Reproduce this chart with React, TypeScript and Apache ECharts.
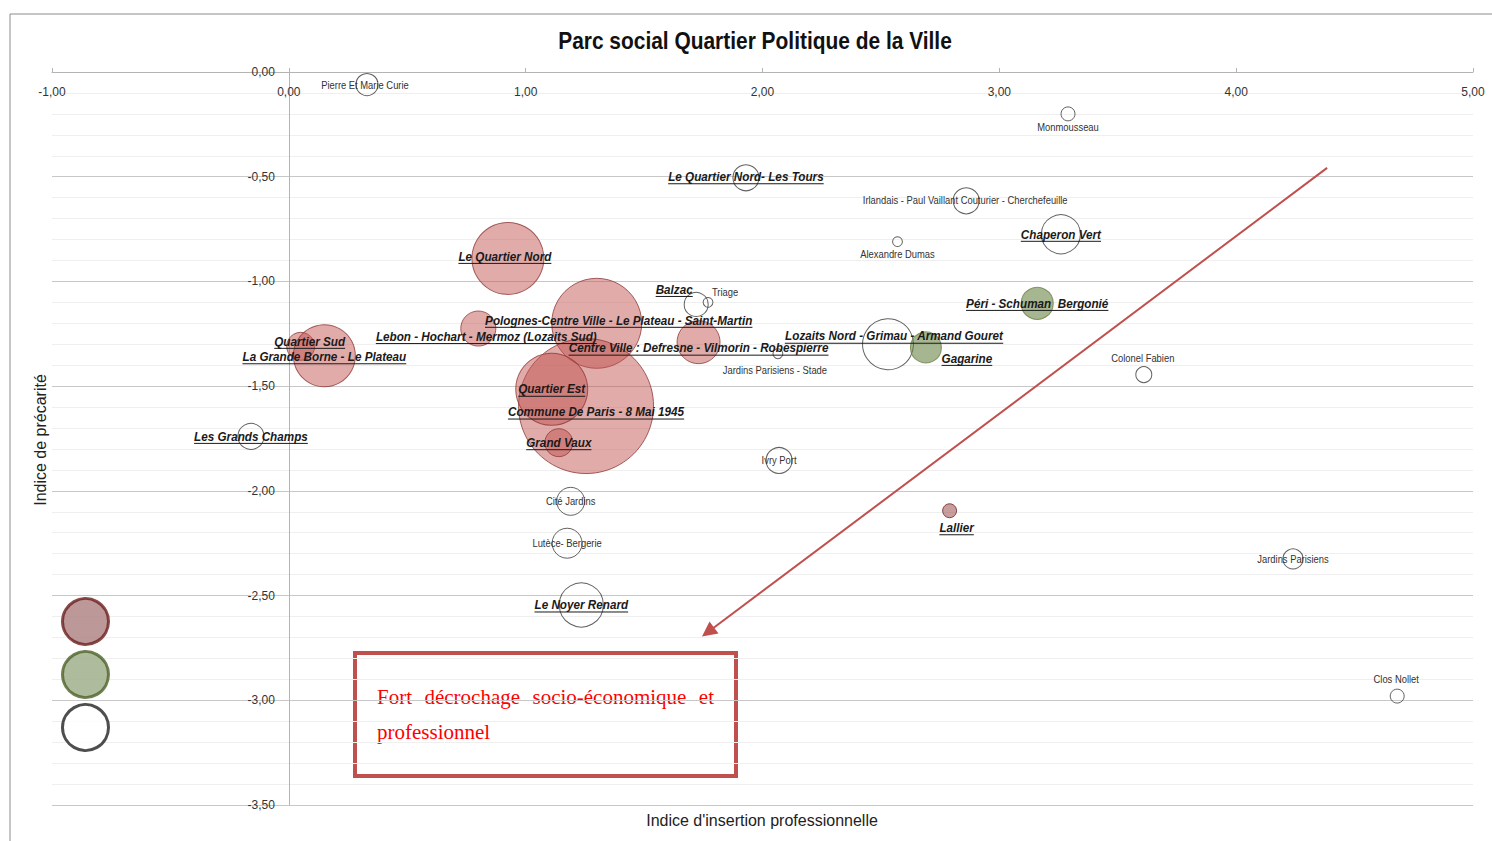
import React, { useEffect, useRef } from "react";
import * as echarts from "echarts";

// ---------- Data ----------
const TITLE = "Parc social Quartier Politique de la Ville";
const X_NAME = "Indice d'insertion professionnelle";
const Y_NAME = "Indice de précarité";
const BOX_WORDS_LINE1 = ["Fort", "décrochage", "socio-économique", "et"];
const BOX_LINE2 = "professionnel";

const NAMES = [
  "Pierre Et Marie Curie",
  "Monmousseau",
  "Le Quartier Nord- Les Tours",
  "Irlandais - Paul Vaillant Couturier - Cherchefeuille",
  "Chaperon Vert",
  "Alexandre Dumas",
  "Le Quartier Nord",
  "Balzac",
  "Triage",
  "Polognes-Centre Ville - Le Plateau - Saint-Martin",
  "Lebon - Hochart - Mermoz (Lozaits Sud)",
  "Quartier Sud",
  "La Grande Borne - Le Plateau",
  "Centre Ville : Defresne - Vilmorin - Robespierre",
  "Jardins Parisiens - Stade",
  "Lozaits Nord - Grimau - Armand Gouret",
  "Gagarine",
  "Péri - Schuman  Bergonié",
  "Colonel Fabien",
  "Commune De Paris - 8 Mai 1945",
  "Quartier Est",
  "Grand Vaux",
  "Les Grands Champs",
  "Ivry Port",
  "Cité Jardins",
  "Lutèce- Bergerie",
  "Le Noyer Renard",
  "Lallier",
  "Jardins Parisiens",
  "Clos Nollet",
];
const X_VALUES = [
  0.33, 3.29, 1.93, 2.86, 3.26, 2.57, 0.925, 1.72, 1.77, 1.30, 0.80, 0.05, 0.15, 1.73, 2.065,
  2.53, 2.69, 3.16, 3.61, 1.255, 1.11, 1.14, -0.16, 2.07, 1.19, 1.175, 1.235, 2.79, 4.24, 4.68,
];
const Y_VALUES = [
  -0.06, -0.2, -0.505, -0.615, -0.775, -0.81, -0.89, -1.11, -1.10, -1.2, -1.225, -1.31, -1.355,
  -1.29, -1.345, -1.3, -1.315, -1.105, -1.445, -1.595, -1.515, -1.77, -1.74, -1.855, -2.05, -2.25,
  -2.545, -2.095, -2.325, -2.98,
];
// approximate number of social dwellings (bubble area)
const SIZES = [
  80, 32, 111, 111, 250, 16, 853, 95, 16, 1333, 202, 129, 633, 304, 16, 428, 158, 169, 42, 3000,
  853, 129, 111, 111, 129, 148, 319, 32, 66, 32,
];
const GROUPS = [
  "blanc", "blanc", "blanc", "blanc", "blanc", "blanc", "rouge", "blanc", "blanc", "rouge",
  "rouge", "rouge", "rouge", "rouge", "blanc", "blanc", "vert", "vert", "blanc", "rouge",
  "rouge", "rouge", "blanc", "blanc", "blanc", "blanc", "blanc", "brun", "blanc", "blanc",
];
const QPV_LABEL = [
  false, false, true, false, true, false, true, true, false, true, true, true, true, true, false,
  true, true, true, false, true, true, true, true, false, false, false, true, true, false, false,
];
const ARROW_FROM = [4.384, -0.458];
const ARROW_TO = [1.77, -2.674];

// ---------- Layout / styles ----------
const LABEL_OFFSETS: Record<string, number[]> = {
  "Pierre Et Marie Curie": [-2, 1],
  Monmousseau: [0, 14],
  "Le Quartier Nord- Les Tours": [0, -1],
  "Irlandais - Paul Vaillant Couturier - Cherchefeuille": [-1, 0],
  "Alexandre Dumas": [0, 13],
  "Le Quartier Nord": [-3, -2],
  Balzac: [-22, -15],
  Triage: [17, -10],
  "Polognes-Centre Ville - Le Plateau - Saint-Martin": [22, -3],
  "Lebon - Hochart - Mermoz (Lozaits Sud)": [8, 8],
  "Quartier Sud": [9, -5],
  "La Grande Borne - Le Plateau": [0, 1],
  "Centre Ville : Defresne - Vilmorin - Robespierre": [0, 6],
  "Jardins Parisiens - Stade": [-3, 17],
  "Lozaits Nord - Grimau - Armand Gouret": [6, -8],
  Gagarine: [41, 11],
  "Colonel Fabien": [-1, -16],
  "Commune De Paris - 8 Mai 1945": [10, 6],
  Lallier: [7, 17],
  "Clos Nollet": [-1, -17],
};
const MAX_SIZE = 3000;
const MAX_RADIUS = 67.5;
const SANS = "'Liberation Sans', Arial, sans-serif";
const SERIF = "'Liberation Serif', 'Times New Roman', serif";
const QPV_SIZE = 13;
const QPV_SCALE = 0.9;
const PLAIN_SIZE = 10;
const PLAIN_SCALE = 0.94;
const BOX_FONT_SIZE = 21;
const BOX_LEFT = 377;
const BOX_RIGHT = 714;

const GROUP_STYLE: Record<string, any> = {
  rouge: { color: "rgba(192,80,77,0.6)", borderColor: "#8e3b39", borderWidth: 1 },
  brun: { color: "rgba(140,50,50,0.6)", borderColor: "#6b1f1f", borderWidth: 1 },
  vert: { color: "rgba(95,124,59,0.7)", borderColor: "#6a7f45", borderWidth: 1 },
  blanc: { color: "rgba(255,255,255,0)", borderColor: "#3a3a3a", borderWidth: 1 },
};
const GROUP_SERIES_NAME: Record<string, string> = {
  rouge: "QPV",
  brun: "Série A",
  vert: "Série B",
  blanc: "Série C",
};

const fmt = (v: number) => (Math.abs(v) < 1e-9 ? "0,00" : v.toFixed(2).replace(".", ","));

let measureCtx: CanvasRenderingContext2D | null = null;
function measure(text: string, font: string) {
  if (!measureCtx) measureCtx = document.createElement("canvas").getContext("2d");
  if (!measureCtx) return text.length * 6;
  measureCtx.font = font;
  return measureCtx.measureText(text).width;
}

const GRID = { left: 52, right: 19, top: 72, bottom: 36 };
const X_MIN = -1;
const X_MAX = 5;

export default function App() {
  const ref = useRef<HTMLDivElement>(null);
  useEffect(() => {
    document.body.style.margin = "0";
    if (!ref.current) return;
    const chart = echarts.init(ref.current, undefined, { renderer: "svg" });
    const plotWidth = 1492 - GRID.left - GRID.right;
    const yAxisOffset = -((0 - X_MIN) / (X_MAX - X_MIN)) * plotWidth;

    const bubbleSeries = ["blanc", "rouge", "brun", "vert"].map((g) => ({
      type: "scatter",
      name: GROUP_SERIES_NAME[g],
      z: 2,
      data: NAMES.map((n, i) => ({ i, n }))
        .filter((d) => GROUPS[d.i] === g)
        .map((d) => ({ name: d.n, value: [X_VALUES[d.i], Y_VALUES[d.i], SIZES[d.i]] })),
      symbolSize: (val: number[]) => 2 * MAX_RADIUS * Math.sqrt(val[2] / MAX_SIZE),
      itemStyle: GROUP_STYLE[g],
      emphasis: { disabled: true },
      label: { show: false },
      ...(g === "blanc"
        ? {
            markLine: {
              silent: true,
              symbol: ["none", "triangle"],
              symbolSize: 15,
              label: { show: false },
              lineStyle: { color: "#c0504d", width: 2, type: "solid" },
              itemStyle: { color: "#c0504d" },
              data: [[{ coord: ARROW_FROM }, { coord: ARROW_TO }]],
            },
          }
        : {}),
    }));

    const labelSeries = {
      type: "custom",
      name: "labels",
      z: 10,
      silent: true,
      data: NAMES.map((_, i) => [X_VALUES[i], Y_VALUES[i]]),
      encode: { x: 0, y: 1 },
      renderItem: (params: any, api: any) => {
        const i = params.dataIndex;
        const name = NAMES[i];
        const p = api.coord([api.value(0), api.value(1)]);
        const off = LABEL_OFFSETS[name] || [0, 0];
        const cx = p[0] + off[0];
        const cy = p[1] + off[1];
        const q = QPV_LABEL[i];
        const size = q ? QPV_SIZE : PLAIN_SIZE;
        const sc = q ? QPV_SCALE : PLAIN_SCALE;
        const children: any[] = [
          {
            type: "text",
            x: cx,
            y: cy,
            scaleX: sc,
            style: {
              text: name,
              fontSize: size,
              fontFamily: SANS,
              fontWeight: q ? "bold" : "normal",
              fontStyle: q ? "italic" : "normal",
              fill: q ? "#1a1a1a" : "#333333",
              align: "center",
              verticalAlign: "middle",
            },
          },
        ];
        if (q) {
          const w = measure(name, `italic bold ${size}px ${SANS}`) * sc;
          children.push({
            type: "line",
            shape: { x1: cx - w / 2, y1: cy + 7, x2: cx + w / 2, y2: cy + 7 },
            style: { stroke: "#1a1a1a", lineWidth: 1 },
          });
        }
        return { type: "group", children };
      },
    };

    const boxText = (text: string, x: number, y: number) => ({
      type: "text",
      x,
      y,
      style: { text, fontSize: BOX_FONT_SIZE, fontFamily: SERIF, fill: "#ff0000", align: "left", verticalAlign: "middle" },
    });
    // justified first line
    const boxFont = `${BOX_FONT_SIZE}px ${SERIF}`;
    const widths = BOX_WORDS_LINE1.map((w) => measure(w, boxFont));
    const gap = (BOX_RIGHT - BOX_LEFT - widths.reduce((a, b) => a + b, 0)) / (BOX_WORDS_LINE1.length - 1);
    let cursor = BOX_LEFT;
    const line1 = BOX_WORDS_LINE1.map((w, k) => {
      const el = boxText(w, cursor, 697);
      cursor += widths[k] + gap;
      return el;
    });

    const option: any = {
      animation: false,
      backgroundColor: "#ffffff",
      legend: {
        orient: "vertical",
        left: 61,
        top: 597,
        padding: 0,
        itemWidth: 46,
        itemHeight: 46,
        itemGap: 4,
        icon: "circle",
        selectedMode: false,
        formatter: () => "",
        data: [
          { name: GROUP_SERIES_NAME.brun, itemStyle: { borderWidth: 3, color: "#ad7e7e", borderColor: "#6b1f1f" } },
          { name: GROUP_SERIES_NAME.vert, itemStyle: { borderWidth: 3, color: "#9aab84", borderColor: "#4f6228" } },
          { name: GROUP_SERIES_NAME.blanc, itemStyle: { borderWidth: 3, color: "#ffffff", borderColor: "#222222" } },
        ],
      },
      grid: { ...GRID, containLabel: false },
      xAxis: {
        type: "value",
        position: "top",
        min: X_MIN,
        max: X_MAX,
        interval: 1,
        axisLine: { show: true, onZero: false, lineStyle: { color: "#b4b4b4" } },
        axisTick: { show: true, inside: false, length: 4, lineStyle: { color: "#b4b4b4" } },
        axisLabel: { inside: true, margin: 14, formatter: fmt, color: "#333", fontSize: 12, fontFamily: SANS },
        splitLine: { show: false },
      },
      yAxis: {
        type: "value",
        min: -3.5,
        max: 0,
        interval: 0.5,
        offset: yAxisOffset,
        axisLine: { show: true, onZero: false, lineStyle: { color: "#b4b4b4" } },
        axisTick: { show: false },
        axisLabel: { margin: 14, formatter: fmt, color: "#333", fontSize: 12, fontFamily: SANS },
        splitLine: { show: true, lineStyle: { color: "#c8c8c8" } },
        minorTick: { show: false, splitNumber: 5 },
        minorSplitLine: { show: true, lineStyle: { color: "#efefef" } },
      },
      graphic: [
        {
          type: "rect",
          z: 0,
          silent: true,
          shape: { x: 10, y: 14, width: 1500, height: 900 },
          style: { fill: "none", stroke: "#8c8c8c", lineWidth: 1 },
        },
        {
          type: "text",
          x: 755,
          y: 41,
          scaleX: 0.91,
          style: { text: TITLE, fontSize: 23, fontWeight: "bold", fontFamily: SANS, fill: "#111", align: "center", verticalAlign: "middle" },
        },
        {
          type: "text",
          x: 762,
          y: 820,
          style: { text: X_NAME, fontSize: 16, fontFamily: SANS, fill: "#222", align: "center", verticalAlign: "middle" },
        },
        {
          type: "text",
          x: 40,
          y: 440,
          rotation: Math.PI / 2,
          style: { text: Y_NAME, fontSize: 16, fontFamily: SANS, fill: "#222", align: "center", verticalAlign: "middle" },
        },
        {
          type: "group",
          z: 100,
          children: [
            {
              type: "rect",
              shape: { x: 355, y: 653, width: 381, height: 123 },
              style: { fill: "#ffffff", stroke: "#c0504d", lineWidth: 4 },
            },
            ...line1,
            boxText(BOX_LINE2, BOX_LEFT, 732),
          ],
        },
      ],
      series: [...bubbleSeries, labelSeries],
    };
    chart.setOption(option);
    return () => chart.dispose();
  }, []);
  return <div ref={ref} style={{ width: 1492, height: 841 }} />;
}
